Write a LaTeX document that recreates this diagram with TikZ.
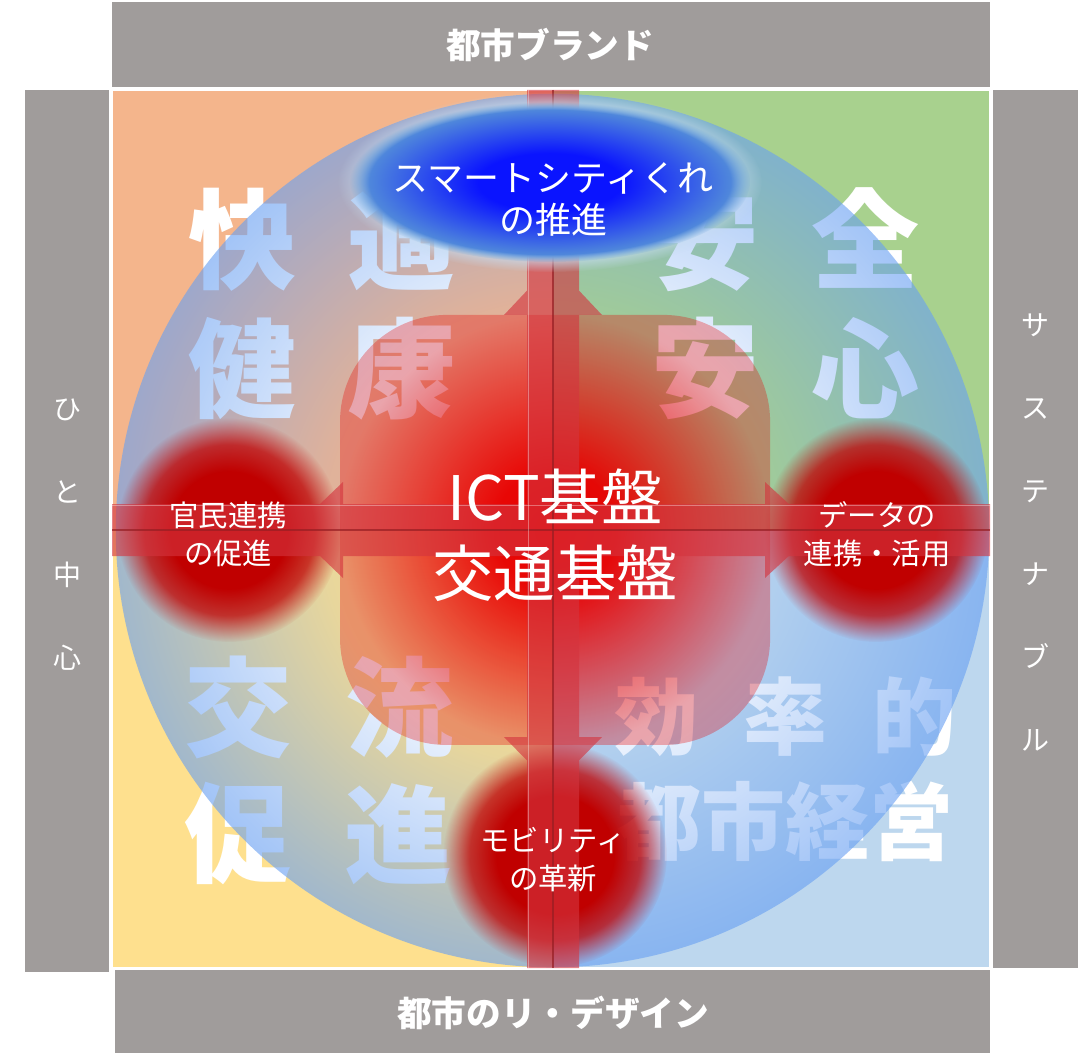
\documentclass[tikz,border=0pt]{standalone}
\usepackage{fontspec}
\setmainfont{Noto Sans CJK JP}
\usetikzlibrary{fadings}

\definecolor{bargray}{RGB}{160,156,155}
\definecolor{qorange}{RGB}{244,181,140}
\definecolor{qgreen}{RGB}{168,209,142}
\definecolor{qyellow}{RGB}{254,224,142}
\definecolor{qblue}{RGB}{189,215,238}
\definecolor{ballblue}{RGB}{105,160,242}
\definecolor{squarered}{RGB}{232,0,0}
\definecolor{glowred}{RGB}{192,0,0}
\definecolor{arrowred}{RGB}{212,52,62}
\definecolor{arrowdark}{RGB}{150,30,35}
\definecolor{deepblue}{RGB}{10,20,255}
\definecolor{ovalblue}{RGB}{91,155,213}

\pgfdeclareradialshading{ballshade}{\pgfpointorigin}{color(0bp)=(pgftransparent!94); color(13bp)=(pgftransparent!86); color(25bp)=(pgftransparent!38); color(50bp)=(pgftransparent!38)}
\pgfdeclarefading{ballfade}{\pgfuseshading{ballshade}}
\pgfdeclareradialshading{squareshade}{\pgfpointorigin}{color(0bp)=(pgftransparent!0); color(7bp)=(pgftransparent!4); color(25bp)=(pgftransparent!68); color(50bp)=(pgftransparent!78)}
\pgfdeclarefading{squarefade}{\pgfuseshading{squareshade}}
\pgfdeclareradialshading{glowshade}{\pgfpointorigin}{color(0bp)=(pgftransparent!0); color(13bp)=(pgftransparent!0); color(19bp)=(pgftransparent!25); color(25bp)=(pgftransparent!100); color(50bp)=(pgftransparent!100)}
\pgfdeclarefading{redglow}{\pgfuseshading{glowshade}}
\pgfdeclareradialshading{ovalshade}{\pgfpointorigin}{color(0bp)=(deepblue); color(9bp)=(deepblue); color(25bp)=(ovalblue); color(50bp)=(ovalblue)}

\begin{document}
\begin{tikzpicture}[x=0.75pt,y=-0.75pt,
    bartext/.style={text=white,font=\fontsize{26}{26}\selectfont\bfseries},
    sidetext/.style={text=white,align=center,font=\fontsize{21}{62.25}\selectfont},
    bigchar/.style={text=white,font=\fontsize{81}{81}\selectfont\bfseries},
    midchar/.style={text=white,font=\fontsize{63}{63}\selectfont\bfseries},
    glowtext/.style={text=white,align=center,font=\fontsize{22}{28.5}\selectfont},
    ovaltext/.style={text=white,align=center,font=\fontsize{27}{31.5}\selectfont},
    coretext/.style={text=white,align=center,font=\fontsize{46}{57}\selectfont}]

      \fill[white] (0,0) rectangle (1084,1055);

      \fill[bargray] (112,2) rectangle (990,87);
      \fill[bargray] (25,90) rectangle (109,972);
      \fill[bargray] (993,90) rectangle (1078,968);
      \fill[bargray] (115,970) rectangle (990,1053);
      \node[bartext] (brand) at (550,45) {都市ブランド};
      \node[bartext] (redesign) at (553,1013) {都市のリ・デザイン};
      \node[sidetext] (people) at (67,535) {ひ\\と\\中\\心};
      \node[sidetext] (sustain) at (1035,532) {サ\\ス\\テ\\ナ\\ブ\\ル};

      \fill[qorange] (112,90) rectangle (553,530);
      \fill[qgreen] (553,90) rectangle (990,530);
      \fill[qyellow] (112,530) rectangle (553,968);
      \fill[qblue] (553,530) rectangle (990,968);
      \draw[white, line width=1.5] (112,90) rectangle (990,968);

      \node[bigchar] (kai) at (242,240) {快};
      \node[bigchar] (teki) at (401,240) {適};
      \node[bigchar] (ken) at (242,369) {健};
      \node[bigchar] (kou) at (401,369) {康};
      \node[bigchar] (an) at (705,240) {安};
      \node[bigchar] (zen) at (865,238) {全};
      \node[bigchar] (anshin) at (705,368) {安};
      \node[bigchar] (shin) at (865,368) {心};
      \node[bigchar] (kou2) at (238,707) {交};
      \node[bigchar] (ryu) at (399,707) {流};
      \node[bigchar] (soku) at (238,834) {促};
      \node[bigchar] (shinko) at (398,834) {進};
      \node[midchar] (kouritsu) at (656,717) {効};
      \node[midchar] (ritsu) at (785,717) {率};
      \node[midchar] (teki2) at (914,717) {的};
      \node[midchar] (keiei) at (785,821) {都市経営};

      \coordinate (hub) at (553,530);
      \coordinate (west) at (229,530);
      \coordinate (east) at (876,530);
      \coordinate (south) at (555,855);
      \coordinate (oval) at (550,182);

      \fill[ballblue, path fading=ballfade] (hub) circle (437);
      \fill[squarered, path fading=squarefade, rounded corners=80pt] (340,315) rectangle (770,745);

      \fill[glowred, path fading=redglow] (west) circle (112);
      \fill[glowred, path fading=redglow] (east) circle (112);
      \fill[glowred, path fading=redglow] (south) circle (112);

      \fill[arrowred, fill opacity=0.62]
        (527,90) -- (579,90) -- (579,968) -- (527,968) -- cycle
        (112,504) -- (990,504) -- (990,556) -- (112,556) -- cycle
        (504,315) -- (553,263) -- (602,315) -- cycle
        (602,737) -- (553,787) -- (504,737) -- cycle
        (343,482) -- (343,578) -- (293,530) -- cycle
        (765,482) -- (817,530) -- (765,578) -- cycle;
      \draw[arrowdark, line width=1.5, opacity=0.7] (553,90) -- (553,968);
      \draw[arrowdark, line width=1.5, opacity=0.7] (112,530) -- (990,530);
      \draw[white, opacity=0.35] (112,505) -- (990,505);
      \draw[white, opacity=0.35] (528,90) -- (528,968);

      \fill[ovalblue!35!white, path fading=circle with fuzzy edge 20 percent] (oval) ellipse [x radius=212, y radius=90];
      \shade[shading=ovalshade, path fading=circle with fuzzy edge 10 percent] (oval) ellipse [x radius=200, y radius=80];

      \node[ovaltext] (smartcity) at (553,199) {スマートシティくれ\\の推進};
      \node[coretext] (core) at (555,535) {ICT基盤\\交通基盤};
      \node[glowtext] (public) at (228,534) {官民連携\\の促進};
      \node[glowtext] (data) at (877,534) {データの\\連携・活用};
      \node[glowtext] (mobility) at (553,860) {モビリティ\\の革新};

    \end{tikzpicture}
\end{document}
